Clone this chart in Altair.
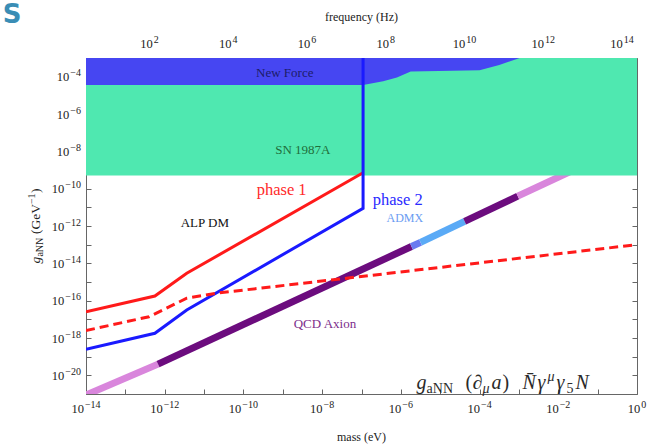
import altair as alt
import pandas as pd

FONT = "Liberation Serif"
HZ_PER_EV = 2.418e14

# ---------------- data (log10 values) ----------------
mass_domain_log = [-14, 0]
g_domain_log = [-21, -3]

sn_mass_log = [-14.0, 0.0]
sn_lower_log = [-9.3, -9.3]

nf_mass_log = [-14.0, -6.96, -6.45, -6.1, -5.75, -4.0, -3.5, -2.98, 0.0]
nf_lower_log = [-4.45, -4.45, -4.25, -4.05, -3.72, -3.66, -3.38, -3.0, -3.0]

p1_mass_log = [-14.0, -12.25, -11.44, -6.96]
p1_g_log = [-16.6, -15.75, -14.53, -9.15]

p2_mass_log = [-14.0, -12.25, -11.44, -6.96, -6.96]
p2_g_log = [-18.6, -17.75, -16.5, -11.05, -3.0]

dash_mass_log = [-14.0, -12.4, -11.44, -10.68, 0.0]
dash_g_log = [-17.6, -16.86, -15.87, -15.6, -13.0]

qcd_mass_log = [-14.0, -12.17, -5.73, -5.5, -4.38, -3.03, -1.0]
qcd_g_log = [-21.05, -19.4, -13.1, -12.88, -11.75, -10.4, -8.4]
qcd_segment = ["light", "dark", "mid", "admx", "dark", "light"]

label_text = ["New Force", "SN 1987A", "phase 1", "phase 2", "ALP DM", "ADMX", "QCD Axion"]
label_mass_log = [-8.95, -8.49, -9.03, -6.08, -10.98, -5.9, -7.93]
label_g_log = [-3.8, -7.93, -10.07, -10.6, -11.84, -11.57, -17.25]
label_color = ["#1c1c6a", "#1f6e3a", "#ff2a2a", "#2a2aff", "#111111", "#6a9cf2", "#7b2d8b"]
label_size = [13, 13, 16.5, 16.5, 13, 12, 13]

mass_tick_exps = list(range(-14, 1))
mass_label_exps = list(range(-14, 1, 2))
g_tick_exps = list(range(-21, -2))
g_label_exps = list(range(-20, -3, 2))
freq_tick_exps = list(range(1, 15))
freq_label_exps = list(range(2, 15, 2))

# ---------------- helpers ----------------
xscale = alt.Scale(type="log", domain=[10.0 ** mass_domain_log[0], 10.0 ** mass_domain_log[1]], nice=False)
yscale = alt.Scale(type="log", domain=[10.0 ** g_domain_log[0], 10.0 ** g_domain_log[1]], nice=False)
X_LO, X_HI = 10.0 ** mass_domain_log[0], 10.0 ** mass_domain_log[1]
Y_LO, Y_HI = 10.0 ** g_domain_log[0], 10.0 ** g_domain_log[1]
X_MID = 10.0 ** ((mass_domain_log[0] + mass_domain_log[1]) / 2)
Y_MID = 10.0 ** ((g_domain_log[0] + g_domain_log[1]) / 2)

tick_axis = dict(domain=False, grid=False, labels=False, title=None, tickSize=5, offset=-5,
                 tickColor="#666666", tickWidth=1)
bottom_axis = alt.Axis(orient="bottom", values=[10.0 ** k for k in mass_tick_exps], **tick_axis)
left_axis = alt.Axis(orient="left", values=[10.0 ** k for k in g_tick_exps], **tick_axis)
top_axis = alt.Axis(orient="top", values=[10.0 ** k / HZ_PER_EV for k in freq_tick_exps], **tick_axis)
right_axis = alt.Axis(orient="right", values=[10.0 ** k for k in g_tick_exps], **tick_axis)


def X(field="m", axis=None):
    return alt.X(f"{field}:Q", scale=xscale, axis=axis, title=None)


def Y(field="g", axis=None):
    return alt.Y(f"{field}:Q", scale=yscale, axis=axis, title=None)


BASE, EXPS, GAP = 12.5, 10.0, 1.0
TXT = "#222222"


def text_width(s, size):
    return sum((0.564 if c == "−" else 0.5) * size for c in s)


def tick_label_layers(xs, ys, exps, side):
    groups = {}
    for x, y, e in zip(xs, ys, exps):
        s = str(e).replace("-", "−")
        groups.setdefault(round(text_width(s, EXPS), 2), []).append((x, y, s))
    w10 = text_width("10", BASE)
    out = []
    for wexp, items in groups.items():
        df = pd.DataFrame({"m": [i[0] for i in items], "g": [i[1] for i in items],
                           "e": [i[2] for i in items]})
        if side in ("bottom", "top"):
            total = w10 + GAP + wexp
            bdx, edx, align = -total / 2, -total / 2 + w10 + GAP, "left"
            bdy, edy = (19, 14) if side == "bottom" else (-10, -15)
        else:
            bdx, edx, align = -5 - wexp - GAP, -5, "right"
            bdy, edy = 4.5, -0.5
        out.append(alt.Chart(df).mark_text(text="10", font=FONT, fontSize=BASE, align=align,
                                           baseline="alphabetic", dx=bdx, dy=bdy, color=TXT)
                   .encode(x=X(), y=Y()))
        out.append(alt.Chart(df).mark_text(font=FONT, fontSize=EXPS, align=align,
                                           baseline="alphabetic", dx=edx, dy=edy, color=TXT)
                   .encode(x=X(), y=Y(), text="e:N"))
    return out


# ---------------- frames ----------------
sn_df = pd.DataFrame({"m": [10.0 ** v for v in sn_mass_log],
                      "g": [10.0 ** v for v in sn_lower_log],
                      "gtop": [Y_HI] * len(sn_mass_log)})
nf_df = pd.DataFrame({"m": [10.0 ** v for v in nf_mass_log],
                      "g": [10.0 ** v for v in nf_lower_log],
                      "gtop": [Y_HI] * len(nf_mass_log)})


def line_df(ms, gs):
    return pd.DataFrame({"m": [10.0 ** v for v in ms], "g": [10.0 ** v for v in gs],
                         "i": list(range(len(ms)))})


p1_df = line_df(p1_mass_log, p1_g_log)
p2_df = line_df(p2_mass_log, p2_g_log)
dash_df = line_df(dash_mass_log, dash_g_log)

qrows = []
for s, kind in enumerate(qcd_segment):
    for j in (s, s + 1):
        qrows.append({"seg": s, "kind": kind, "m": 10.0 ** qcd_mass_log[j],
                      "g": 10.0 ** qcd_g_log[j], "i": j})
qcd_df = pd.DataFrame(qrows)

lab_df = pd.DataFrame({"text": label_text,
                       "m": [10.0 ** v for v in label_mass_log],
                       "g": [10.0 ** v for v in label_g_log],
                       "color": label_color, "size": label_size})

# ---------------- layers ----------------
qcd = alt.Chart(qcd_df).mark_line(strokeWidth=7, strokeCap="butt", clip=True).encode(
    x=X(), y=Y(), detail="seg:N", order="i:Q",
    color=alt.Color("kind:N", legend=None,
                    scale=alt.Scale(domain=["light", "dark", "mid", "admx"],
                                    range=["#d986dc", "#6c0c7e", "#6a7af0", "#5aaaf6"])))

sn = alt.Chart(sn_df).mark_area(color="#4fe8b0", opacity=1, clip=True).encode(
    x=X(axis=bottom_axis), y=Y(axis=left_axis), y2="gtop:Q")

nf = alt.Chart(nf_df).mark_area(color="#4646f2", opacity=1, clip=True).encode(
    x=X(), y=Y(), y2="gtop:Q")

p1 = alt.Chart(p1_df).mark_line(color="#ff1a1a", strokeWidth=3, clip=True).encode(
    x=X(), y=Y(), order="i:Q")
p2 = alt.Chart(p2_df).mark_line(color="#1a1aff", strokeWidth=3, clip=True).encode(
    x=X(), y=Y(), order="i:Q")
dash = alt.Chart(dash_df).mark_line(color="#ff1a1a", strokeWidth=3, strokeDash=[9, 5], clip=True).encode(
    x=X(), y=Y(), order="i:Q")

labels = alt.Chart(lab_df).mark_text(font=FONT, align="center", baseline="middle").encode(
    x=X(), y=Y(), text="text:N",
    color=alt.Color("color:N", scale=None),
    size=alt.Size("size:Q", scale=None))

# formula annotation g_aNN (∂_μ a) N̄ γ^μ γ_5 N
form_anchor = pd.DataFrame({"m": [10.0 ** -5.6], "g": [10.0 ** -20.73]})
pieces = [
    ("g", 0, 0, 20, "italic"),
    ("aNN", 10, 4, 14, "normal"),
    ("(", 49, 0, 20, "normal"),
    ("∂", 56, 0, 20, "italic"),
    ("μ", 66, 4, 14, "italic"),
    ("a", 75, 0, 20, "italic"),
    (")", 86, 0, 20, "normal"),
    ("N\u0304", 106, 0, 20, "italic"),
    ("γ", 121, 0, 20, "italic"),
    ("μ", 131, -8, 14, "italic"),
    ("γ", 140, 0, 20, "italic"),
    ("5", 150, 4, 14, "normal"),
    ("N", 159, 0, 20, "italic"),
]
formula_layers = [
    alt.Chart(form_anchor).mark_text(
        text=txt, font=FONT, fontSize=fs, fontStyle=style, align="left",
        baseline="alphabetic", dx=dx, dy=dy, color="#2a2a2a").encode(x=X(), y=Y())
    for txt, dx, dy, fs, style in pieces
]

# tick labels
tick_layers = []
tick_layers += tick_label_layers([10.0 ** k for k in mass_label_exps], [Y_LO] * len(mass_label_exps),
                                 mass_label_exps, "bottom")
tick_layers += tick_label_layers([10.0 ** k / HZ_PER_EV for k in freq_label_exps], [Y_HI] * len(freq_label_exps),
                                 freq_label_exps, "top")
tick_layers += tick_label_layers([X_LO] * len(g_label_exps), [10.0 ** k for k in g_label_exps],
                                 g_label_exps, "left")

# axis titles
anchor_b = pd.DataFrame({"m": [X_MID], "g": [Y_LO]})
anchor_t = pd.DataFrame({"m": [X_MID], "g": [Y_HI]})
anchor_l = pd.DataFrame({"m": [X_LO], "g": [Y_MID]})
anchor_corner = pd.DataFrame({"m": [X_LO], "g": [Y_HI]})
title_layers = [
    alt.Chart(anchor_b).mark_text(text="mass (eV)", font=FONT, fontSize=12, align="center",
                                  baseline="middle", dy=43, color=TXT).encode(x=X(), y=Y()),
    alt.Chart(anchor_t).mark_text(text="frequency (Hz)", font=FONT, fontSize=12, align="center",
                                  baseline="middle", dy=-41, color=TXT).encode(x=X(), y=Y()),
]
# rotated y title; for angle 270, dx runs along the text (screen up), dy across it (screen right)
ytitle_pieces = [  # text, size, style, perpendicular shift, advance incl. spacing
    ("g", 13.5, "italic", 0, 6.8),
    ("aNN", 10, "normal", 3, 22.5),
    ("(GeV", 13.5, "normal", 0, 30.0),
    ("−1", 10, "normal", -5, 11.0),
    (")", 13.5, "normal", 0, 4.5),
]
total_len = sum(p[4] for p in ytitle_pieces)
cum = 0.0
for txt, fs, style, shift, advance in ytitle_pieces:
    title_layers.append(
        alt.Chart(anchor_l).mark_text(text=txt, font=FONT, fontSize=fs, fontStyle=style, angle=270,
                                      align="left", baseline="alphabetic",
                                      dx=cum - total_len / 2, dy=-46 + shift, color=TXT)
        .encode(x=X(), y=Y()))
    cum += advance

logo = alt.Chart(anchor_corner).mark_text(text="S", font="DejaVu Sans", fontSize=26, fontWeight="bold",
                                          align="center", baseline="middle", dx=-74, dy=-43,
                                          color="#3a8db5").encode(x=X(), y=Y())

dummy = alt.Chart(sn_df).mark_point(opacity=0).encode(
    x=X(axis=top_axis), y=Y(axis=right_axis))

chart = alt.layer(qcd, sn, nf, p1, p2, dash, labels, *formula_layers, *tick_layers,
                  *title_layers, logo, dummy).resolve_axis(
    x="independent", y="independent"
).properties(
    width=551, height=336,
    autosize=alt.AutoSizeParams(type="none"),
    padding={"left": 86, "top": 58, "right": 30, "bottom": 54},
    background="white",
).configure_view(stroke="#666666", strokeWidth=1)

chart.save("out.html", embed_options={"renderer": "svg", "actions": False})
